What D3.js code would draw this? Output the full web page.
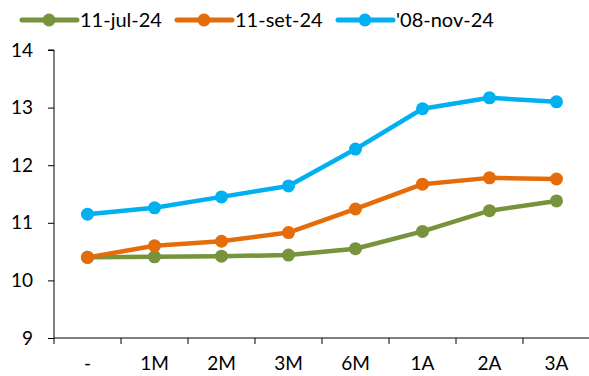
<!DOCTYPE html>
<html>
<head>
<meta charset="utf-8">
<script src="https://cdn.jsdelivr.net/npm/d3@7"></script>
<style>
  body { margin: 0; background: #fff; }
  text { font-family: Lato, "Open Sans", sans-serif; fill: #000; }
</style>
</head>
<body>
<div class="chart"></div>
<script>
// curva de tasas por plazo, tres fechas

var categories = ["-", "1M", "2M", "3M", "6M", "1A", "2A", "3A"];
var jul24 = [10.40, 10.41, 10.42, 10.44, 10.55, 10.85, 11.21, 11.38];
var set24 = [10.40, 10.60, 10.68, 10.83, 11.24, 11.67, 11.78, 11.76];
var nov24 = [11.15, 11.26, 11.45, 11.64, 12.28, 12.98, 13.17, 13.10];
var seriesNames = ["11-jul-24", "11-set-24", "'08-nov-24"];
var seriesColors = ["#77933C", "#E46C0A", "#00B0F0"];
var yTicks = [9, 10, 11, 12, 13, 14];

var width = 589,
    height = 376,
    margin = {top: 50, right: -1, bottom: 38, left: 54};

var series = [jul24, set24, nov24].map(function(v, i) {
    return {name: seriesNames[i], color: seriesColors[i], values: v};
});

var svg = d3.select(".chart").append("svg")
    .attr("width", width)
    .attr("height", height);

/* scales */
var x = d3.scaleBand()
    .domain(categories)
    .range([margin.left, width - margin.right]);
var y = d3.scaleLinear()
    .domain([9, 14])
    .range([height - margin.bottom, margin.top]);

// Y axis
var yAxis = svg.append("g")
    .attr("transform", "translate(" + margin.left + ",0)")
    .call(d3.axisLeft(y).tickValues(yTicks).tickSize(6).tickPadding(15).tickFormat(d3.format("d")));
yAxis.select(".domain").attr("stroke", "#000").attr("d", "M-6," + y(14) + "H0V" + y(9));
yAxis.selectAll("line").attr("stroke", "#000");
yAxis.selectAll("text").style("font-size", "19px");

// X axis, ticks between categories
var xAxis = svg.append("g")
    .attr("transform", "translate(0," + y(9) + ")");
xAxis.append("line")
    .attr("x1", margin.left).attr("x2", width)
    .attr("stroke", "#000");
xAxis.selectAll(".tk")
    .data(categories)
    .enter().append("line")
    .attr("x1", function(d) { return x(d); })
    .attr("x2", function(d) { return x(d); })
    .attr("y1", 0).attr("y2", 6)
    .attr("stroke", "#000");
xAxis.selectAll(".lbl")
    .data(categories)
    .enter().append("text")
    .attr("x", function(d) { return x(d) + x.bandwidth() / 2; })
    .attr("y", 32)
    .attr("text-anchor", "middle")
    .style("font-size", "19px")
    .text(function(d) { return d; });

/* lines */
var line = d3.line()
    .x(function(d, i) { return x(categories[i]) + x.bandwidth() / 2; })
    .y(function(d) { return y(d); });

var g = svg.selectAll(".serie")
    .data(series)
    .enter().append("g");

g.append("path")
    .attr("d", function(d) { return line(d.values); })
    .attr("fill", "none")
    .attr("stroke", function(d) { return d.color; })
    .attr("stroke-width", 4.5)
    .attr("stroke-linejoin", "round");

g.selectAll("circle")
    .data(function(d) { return d.values.map(function(v) { return {v: v, c: d.color}; }); })
    .enter().append("circle")
    .attr("cx", function(d, i) { return x(categories[i]) + x.bandwidth() / 2; })
    .attr("cy", function(d) { return y(d.v); })
    .attr("r", 6.5)
    .attr("fill", function(d) { return d.c; });

// legend
var legX = [22, 177, 338];
var leg = svg.selectAll(".leg")
    .data(series)
    .enter().append("g")
    .attr("transform", function(d, i) { return "translate(" + legX[i] + ",20)"; });
leg.append("line")
    .attr("x1", 0).attr("x2", 55)
    .attr("stroke", function(d) { return d.color; })
    .attr("stroke-width", 5)
    .attr("stroke-linecap", "round");
leg.append("circle")
    .attr("cx", 27).attr("r", 6.5)
    .attr("fill", function(d) { return d.color; });
leg.append("text")
    .attr("x", 58)
    .attr("dy", "0.35em")
    .style("font-size", "20px")
    .text(function(d) { return d.name; });
</script>
</body>
</html>
